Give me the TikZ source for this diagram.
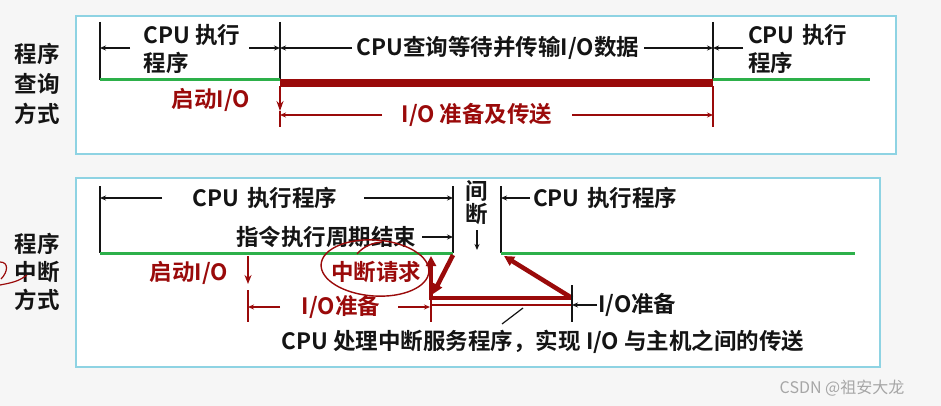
\documentclass[tikz,border=0pt]{standalone}
\usepackage{fontspec}
\setmainfont{Noto Sans CJK SC}[BoldFont={Noto Sans CJK SC Bold}]
\usetikzlibrary{arrows.meta}
\definecolor{dred}{HTML}{9A0A0A}
\definecolor{lgreen}{HTML}{2DB04A}
\definecolor{boxblue}{HTML}{8ED3E3}
\definecolor{bggray}{HTML}{F6F6F6}
\definecolor{ink}{HTML}{141414}
\tikzset{
	txt/.style={inner sep=0pt,text=ink,font=\fontsize{22.5}{28}\selectfont\bfseries},
	rtxt/.style={txt,text=dred},
	vbar/.style={draw=ink,line width=1.4pt},
	rbar/.style={draw=dred,line width=1.4pt},
	dim/.style={draw=ink,line width=1.2pt,-{Stealth[length=6pt,width=5pt]}},
	rdim/.style={dim,draw=dred},
	run/.style={draw=lgreen,line width=3pt},
	io/.style={draw=dred,line width=4.5pt},
	ioarr/.style={io,-{Triangle[length=10pt,width=10pt]}},
	panel/.style={draw=boxblue,line width=1.6pt,fill=white},
}
\begin{document}
\begin{tikzpicture}[x=1pt,y=-1pt]
	\fill[bggray] (0,0) rectangle (941,406);
	\useasboundingbox (0,0) rectangle (941,406);
	% program query mode
	\draw[panel] (76,16) rectangle (896,154);
	\node[txt,align=center,font=\fontsize{22.5}{30}\selectfont\bfseries] (lq) at (37,84) {程序\\查询\\方式};
	\coordinate (a1) at (100,22); \coordinate (a2) at (100,80);
	\coordinate (b1) at (280,22); \coordinate (b2) at (280,80);
	\coordinate (c1) at (713,22); \coordinate (c2) at (713,80);
	\coordinate (e) at (870,80);
	\draw[vbar] (a1)--(a2);
	\draw[vbar] (b1)--(b2);
	\draw[vbar] (c1)--(c2);
	\draw[run] (a2)--(b2);
	\draw[run] (c2)--(e);
	\draw[dred,line width=8pt] (280,83)--(713,83);
	\draw[rbar,-{Stealth[length=10pt,width=7pt]}] (280,86)--(280,111);
	\draw[rbar] (280,111)--(280,127);
	\draw[rbar] (713,86)--(713,127);
	\node[txt,align=left] (q1) at (192,49) {CPU 执行\\程序};
	\draw[dim] (130,48)--(100,48);
	\draw[dim] (249,48)--(280,48);
	\node[txt] (q2) at (498,48) {CPU查询等待并传输I/O数据};
	\draw[dim] (352,48)--(280,48);
	\draw[dim] (644,48)--(713,48);
	\node[txt,align=left,anchor=west] (q3) at (748,49) {CPU\,\,执行\\程序};
	\draw[dim] (743,48)--(713,48);
	\node[rtxt] (q4) at (211,100) {启动I/O};
	\node[rtxt] (q5) at (477,115) {I/O 准备及传送};
	\draw[rdim] (382,115)--(280,115);
	\draw[rdim] (572,115)--(713,115);

	% program interrupt mode
	\draw[panel] (76,178) rectangle (880,367);
	\node[txt,align=center] (li) at (37,272) {程序\\中断\\方式};
	\draw[dred,line width=1.2pt] (0,262) .. controls (9,262) and (8,272) .. (1,279);
	\draw[dred,line width=1.2pt] (0,285) .. controls (10,283) and (18,282) .. (27,275);
	\coordinate (d1) at (100,186); \coordinate (d2) at (100,253);
	\coordinate (f1) at (453,186); \coordinate (f2) at (453,253);
	\coordinate (g1) at (501,186); \coordinate (g2) at (501,253);
	\coordinate (h) at (855,253);
	\draw[vbar] (d1)--(d2);
	\draw[vbar] (f1)--(f2);
	\draw[vbar] (g1)--(g2);
	\draw[run] (d2)--(f2);
	\draw[run] (g2)--(h);
	\node[txt] (p1) at (265,198) {CPU\,\,执行程序};
	\draw[dim] (162,198)--(100,198);
	\draw[dim] (364,198)--(453,198);
	\node[txt] (p2) at (326,237) {指令执行周期结束};
	\draw[dim] (422,237)--(453,237);
	\node[txt] (p3) at (477,191) {间};
	\node[txt] (p4) at (477,214) {断};
	\draw[dim] (477,230)--(477,250);
	\node[txt,anchor=west] (p5) at (533,198) {CPU\,\,执行程序};
	\draw[dim] (530,198)--(501,198);
	% I/O side
	\node[rtxt] (p6) at (189,273) {启动I/O};
	\draw[rbar,line width=2pt,-{Stealth[length=9pt,width=7pt]}] (248,256)--(248,284);
	\draw[rbar] (248,290)--(248,322);
	\node[rtxt] (p7) at (341,307) {I/O准备};
	\draw[rdim] (280,307)--(248,307);
	\draw[rdim] (398,307)--(430,307);
	\draw[rbar] (431,297)--(431,322);
	\draw[dred,line width=1.6pt] (431,305)--(572,305);
	\draw[io] (429,298)--(572,298);
	\draw[ioarr] (431,298)--(431,256);
	\draw[ioarr] (453,255)--(433,294);
	\draw[ioarr] (572,298)--(504,256);
	\draw[vbar] (572,285)--(572,322);
	\node[txt,anchor=west] (p8) at (598,305) {I/O准备};
	\draw[dim] (597,305)--(572,305);
	\node[txt] (p9) at (543,342) {CPU 处理中断服务程序，实现 I/O 与主机之间的传送};
	\draw[vbar,line width=1.2pt] (523,308)--(502,324);
	% hand-drawn mark
	\node[rtxt] (p10) at (376,272) {中断请求};
	\draw[dred,line width=1.4pt,rotate around={-4:(375,268)}] (375,268) ellipse [x radius=54,y radius=28];
	\draw[dred,line width=1.4pt] (357,254) .. controls (364,246) and (372,243) .. (382,242);
	\node[text=black!35,inner sep=0pt,font=\fontsize{16}{18}\selectfont] (wm) at (842,388) {CSDN @祖安大龙};
\end{tikzpicture}
\end{document}
